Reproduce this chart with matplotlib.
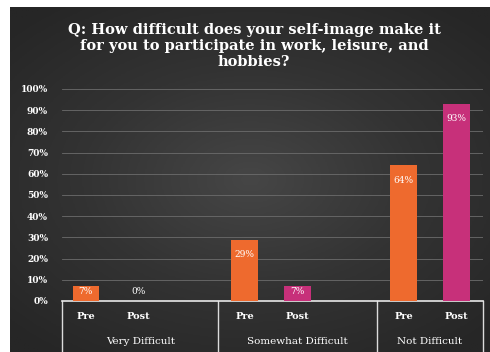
import numpy as np
import matplotlib
matplotlib.use("Agg")
import matplotlib.pyplot as plt

groups = ["Very Difficult", "Somewhat Difficult", "Not Difficult"]
phases = ["Pre", "Post"]
pre_vals = [7, 29, 64]
post_vals = [0, 7, 93]
title = "Q: How difficult does your self-image make it\nfor you to participate in work, leisure, and\nhobbies?"

pre_color = "#ee6a2e"
post_color = "#c7307a"
txt = "white"
serif = ["DejaVu Serif"]

fig = plt.figure(figsize=(4.9, 3.52), dpi=100, facecolor="white")

# dark panel with soft radial gradient
bg = fig.add_axes([10 / 490, 0, 480 / 490, 345 / 352])
yy, xx = np.mgrid[-1:1:200j, -1:1:200j]
r = np.sqrt(xx ** 2 + (yy * 1.1) ** 2)
bg.imshow(r, cmap=matplotlib.colors.LinearSegmentedColormap.from_list(
    "g", ["#464646", "#333333", "#262626"]), aspect="auto",
    extent=[0, 1, 0, 1], vmin=0, vmax=1.4)
bg.set_axis_off()

ax = fig.add_axes([62 / 490, 51 / 352, 421 / 490, 212 / 352])
ax.set_facecolor("none")

pos_pre = np.array([0, 3, 6])
pos_post = pos_pre + 1
w = 0.5
ax.bar(pos_pre, pre_vals, w, color=pre_color, zorder=3)
ax.bar(pos_post, post_vals, w, color=post_color, zorder=3)

for p, v in zip(np.concatenate([pos_pre, pos_post]), pre_vals + post_vals):
    y = max(v - 7, 4.3)
    ax.text(p, y, f"{v}%", ha="center", va="center", color=txt,
            fontsize=6.5, family=serif, zorder=4)

ax.set_xlim(-0.45, 7.5)
ax.set_ylim(0, 100)
ax.set_yticks(range(0, 101, 10))
ax.set_yticklabels([f"{t}%" for t in range(0, 101, 10)], color=txt,
                   fontsize=6.5, family=serif, fontweight="bold")
ax.tick_params(axis="y", length=0, pad=10)
ax.tick_params(axis="x", length=0)
ax.set_xticks([])
ax.grid(axis="y", color="#6c6c6c", linewidth=0.6, zorder=0)
for s in ["top", "right", "left"]:
    ax.spines[s].set_visible(False)
ax.spines["bottom"].set_color("#e8e8e8")
ax.spines["bottom"].set_linewidth(1.2)

# multi-level category axis
for xs in [-0.45, 2.5, 5.5, 7.5]:
    ax.plot([xs, xs], [0, -25], color="#dcdcdc", lw=1.0, clip_on=False)
for p in pos_pre:
    ax.text(p, -7.5, phases[0], ha="center", va="center", color=txt,
            fontsize=7, family=serif, fontweight="bold", clip_on=False)
for p in pos_post:
    ax.text(p, -7.5, phases[1], ha="center", va="center", color=txt,
            fontsize=7, family=serif, fontweight="bold", clip_on=False)
centers = [(-0.45 + 2.5) / 2, 4, (5.5 + 7.5) / 2]
for c, g in zip(centers, groups):
    ax.text(c, -19, g, ha="center", va="center", color=txt,
            fontsize=7.5, family=serif, clip_on=False)

fig.text(254 / 490, 1 - 46 / 352, title, ha="center", va="center",
         color=txt, fontsize=10.5, family=serif, fontweight="bold",
         linespacing=1.15)

fig.savefig("out.png", dpi=100, facecolor=fig.get_facecolor())
